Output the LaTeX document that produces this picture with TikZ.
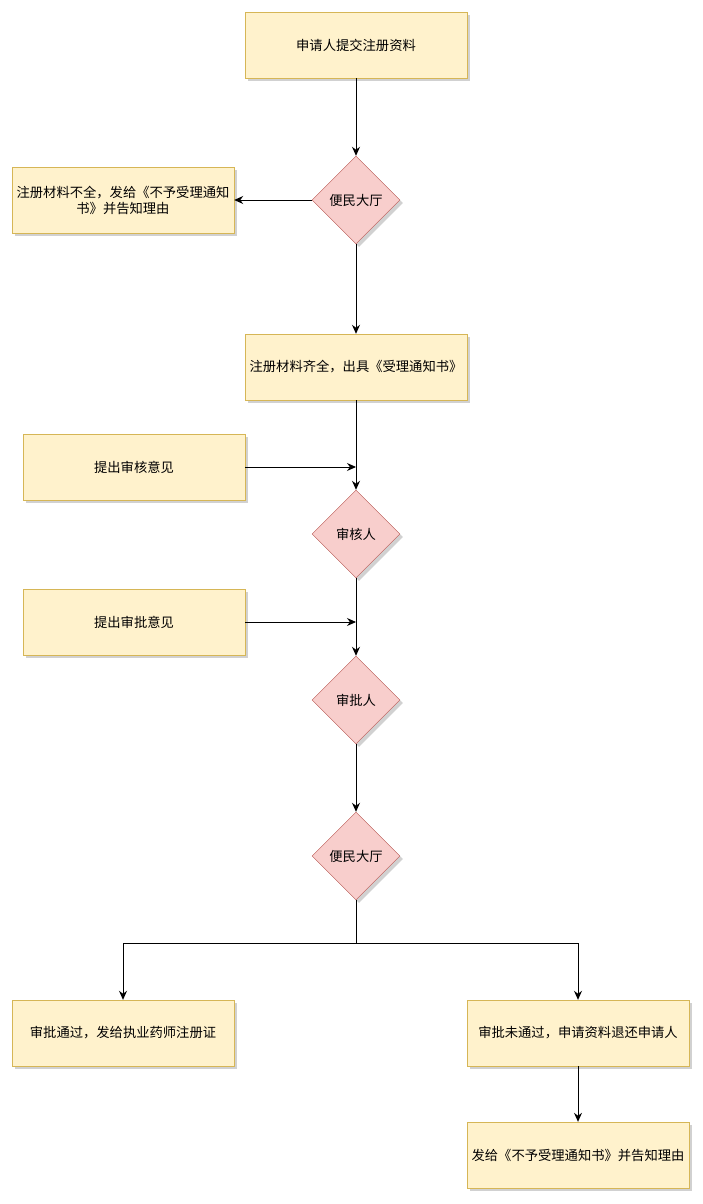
\documentclass[tikz,border=0pt]{standalone}
\usepackage{fontspec}
\setmainfont{Noto Sans CJK SC}
\usetikzlibrary{shapes.geometric,shadows,arrows.meta}
\definecolor{boxfill}{HTML}{FFF2CC}
\definecolor{boxline}{HTML}{D6B656}
\definecolor{decfill}{HTML}{F8CECC}
\definecolor{decline}{HTML}{B85450}
\begin{document}
\begin{tikzpicture}[x=1pt,y=-1pt]
        \tikzset{box node/.style={rectangle, draw=boxline, fill=boxfill, minimum width=222pt, minimum height=66pt, inner sep=1pt, align=center, font=\fontsize{13.3}{16}\selectfont,
            drop shadow={shadow xshift=3pt, shadow yshift=-3pt, fill=black!30, opacity=0.6}},
          decision node/.style={diamond, draw=decline, fill=decfill, minimum width=88pt, minimum height=88pt, inner sep=0pt, font=\fontsize{13.3}{16}\selectfont,
            drop shadow={shadow xshift=3pt, shadow yshift=-3pt, fill=black!30, opacity=0.6}},
          flow/.style={-{Stealth[length=9pt,width=8pt]}, line width=0.9pt}}
        \useasboundingbox (0,0) rectangle (703,1204);
        \node[box node] (submit) at (356,45) {申请人提交注册资料};
        \node[decision node] (hall1) at (356,200) {便民大厅};
        \node[box node] (reject) at (123,200) {注册材料不全，发给《不予受理通知\\书》并告知理由};
        \node[box node] (accept) at (356,367) {注册材料齐全，出具《受理通知书》};
        \node[box node] (review opinion) at (134,467) {提出审核意见};
        \node[decision node] (reviewer) at (356,534) {审核人};
        \node[box node] (approve opinion) at (134,622) {提出审批意见};
        \node[decision node] (approver) at (356,700) {审批人};
        \node[decision node] (hall2) at (356,856) {便民大厅};
        \node[box node] (pass) at (123,1033) {审批通过，发给执业药师注册证};
        \node[box node] (fail) at (578,1033) {审批未通过，申请资料退还申请人};
        \node[box node] (notice) at (578,1155) {发给《不予受理通知书》并告知理由};
        \coordinate (review in) at (356,467);
        \coordinate (approve in) at (356,622);
        \coordinate (split) at (356,943);
        \draw[flow] (submit) -- (hall1);
        \draw[flow] (hall1) -- (reject);
        \draw[flow] (hall1) -- (accept);
        \draw[flow] (accept) -- (reviewer);
        \draw[flow] (review opinion) -- (review in);
        \draw[flow] (reviewer) -- (approver);
        \draw[flow] (approve opinion) -- (approve in);
        \draw[flow] (approver) -- (hall2);
        \draw[line width=0.9pt] (hall2) -- (split);
        \draw[flow] (split) -| (pass);
        \draw[flow] (split) -| (fail);
        \draw[flow] (fail) -- (notice);
      \end{tikzpicture}
\end{document}
